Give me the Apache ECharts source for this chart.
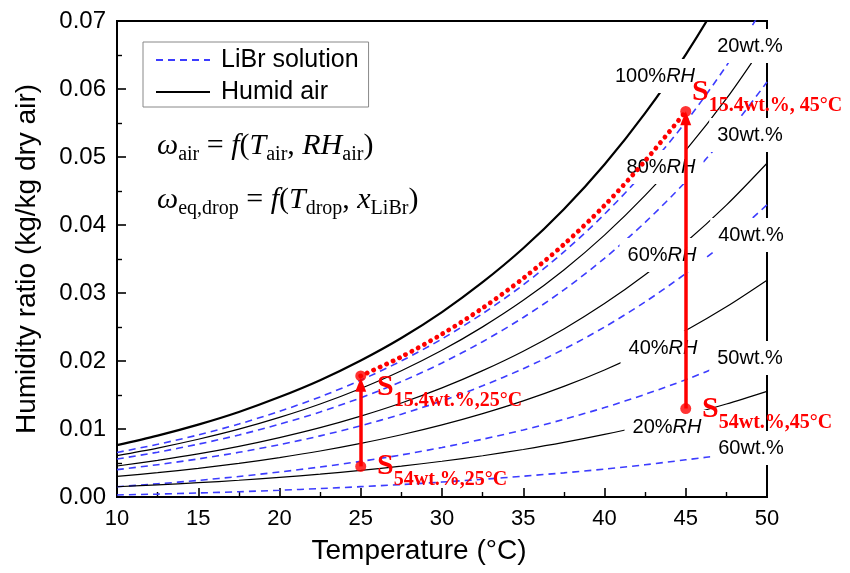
<!DOCTYPE html>
<html>
<head>
<meta charset="utf-8">
<script src="https://cdn.jsdelivr.net/npm/echarts@6/dist/echarts.min.js"></script>
<style>
  html, body { margin: 0; padding: 0; background: #fff; }
  #chart { width: 850px; height: 573px; }
</style>
</head>
<body>
<div id="chart"></div>
<script>
// Temperatures (°C) at which the curves are sampled
const temps = [10, 12.5, 15, 17.5, 20, 22.5, 25, 27.5, 30, 32.5, 35, 37.5, 40, 42.5, 45, 47.5, 50];

// Humid air: humidity ratio (kg/kg dry air) at constant relative humidity
const rh100 = [0.00763, 0.00903, 0.01065, 0.01251, 0.01470, 0.01718, 0.02008, 0.02339, 0.02720, 0.03159, 0.03658, 0.04231, 0.04889, 0.05644, 0.06506, 0.07498, 0.08634];
const rh80  = [0.00609, 0.00720, 0.00849, 0.00997, 0.01170, 0.01367, 0.01596, 0.01857, 0.02157, 0.02502, 0.02892, 0.03339, 0.03851, 0.04435, 0.05098, 0.05857, 0.06720];
const rh60  = [0.00456, 0.00539, 0.00634, 0.00745, 0.00874, 0.01020, 0.01190, 0.01383, 0.01604, 0.01858, 0.02144, 0.02471, 0.02844, 0.03268, 0.03747, 0.04292, 0.04908];
const rh40  = [0.00303, 0.00358, 0.00421, 0.00495, 0.00580, 0.00676, 0.00788, 0.00915, 0.01060, 0.01226, 0.01413, 0.01626, 0.01868, 0.02141, 0.02449, 0.02797, 0.03188];
const rh20  = [0.00151, 0.00179, 0.00210, 0.00246, 0.00289, 0.00336, 0.00392, 0.00454, 0.00526, 0.00607, 0.00699, 0.00802, 0.00920, 0.01052, 0.01201, 0.01368, 0.01554];

// LiBr solution: equilibrium humidity ratio at constant mass fraction
const libr20 = [0.00655, 0.00775, 0.00913, 0.01073, 0.01260, 0.01472, 0.01719, 0.02001, 0.02325, 0.02697, 0.03120, 0.03604, 0.04159, 0.04793, 0.05515, 0.06341, 0.07283];
const libr30 = [0.00558, 0.00659, 0.00777, 0.00912, 0.01071, 0.01250, 0.01459, 0.01697, 0.01971, 0.02284, 0.02640, 0.03046, 0.03510, 0.04039, 0.04639, 0.05324, 0.06102];
const libr40 = [0.00402, 0.00475, 0.00560, 0.00657, 0.00770, 0.00899, 0.01048, 0.01218, 0.01413, 0.01635, 0.01887, 0.02173, 0.02499, 0.02869, 0.03287, 0.03761, 0.04296];
const libr50 = [0.00151, 0.00194, 0.00244, 0.00302, 0.00368, 0.00441, 0.00524, 0.00619, 0.00728, 0.00850, 0.00986, 0.01142, 0.01315, 0.01510, 0.01725, 0.01967, 0.02240];
const libr60 = [0.00030, 0.00043, 0.00059, 0.00077, 0.00099, 0.00124, 0.00152, 0.00183, 0.00220, 0.00260, 0.00306, 0.00355, 0.00411, 0.00474, 0.00547, 0.00622, 0.00713];

// Droplet heated from 25 °C to 45 °C at 15.4 wt.% LiBr
const dropTemps = [25, 27.5, 30, 32.5, 35, 37.5, 40, 42.5, 45];
const libr154   = [0.0178, 0.02061, 0.02396, 0.02779, 0.03216, 0.03715, 0.04288, 0.04943, 0.0567];

// State points and the arrows between them
const stateTemps = [25, 25, 45, 45];
const stateOmega = [0.0045, 0.0178, 0.0130, 0.0567];
const arrowTemps = [25, 45];
const arrowFrom  = [0.0045, 0.0130];
const arrowTo    = [0.0165, 0.0557];

// Axis ticks
const xTicks = { min: 10, max: 50, step: 5 };
const yTicks = { min: 0, max: 0.07, step: 0.01 };

const SANS = '"Liberation Sans", Arial, Helvetica, sans-serif';
const SERIF = '"Liberation Serif", "Times New Roman", Times, serif';
const BLUE = '#3c3cff';
const RED = '#ff0000';

const pairs = (xs, ys) => xs.map((x, i) => [x, ys[i]]);

const airSeries = [rh80, rh60, rh40, rh20, rh100].map((ys) => ({
  type: 'line',
  name: 'Humid air',
  data: pairs(temps, ys),
  smooth: 0.3,
  symbol: 'none',
  silent: true,
  z: 2,
  lineStyle: { color: '#000', width: ys === rh100 ? 2.2 : 1.2 }
}));

const librSeries = [libr20, libr30, libr40, libr50, libr60].map((ys) => ({
  type: 'line',
  name: 'LiBr solution',
  data: pairs(temps, ys),
  smooth: 0.3,
  symbol: 'none',
  silent: true,
  z: 2,
  lineStyle: { color: BLUE, width: 1.6, type: [7, 5] }
}));

const dropSeries = {
  type: 'line',
  name: 'drop',
  data: pairs(dropTemps, libr154),
  smooth: 0.3,
  symbol: 'none',
  silent: true,
  z: 20,
  lineStyle: { color: RED, width: 4.8, type: [0.1, 7], cap: 'round' }
};

const arrowSeries = {
  type: 'scatter',
  name: 'states',
  data: pairs(stateTemps, stateOmega),
  symbol: 'circle',
  symbolSize: 11,
  silent: true,
  z: 22,
  itemStyle: { color: RED },
  markLine: {
    silent: true,
    z: 21,
    symbol: ['none', 'triangle'],
    symbolSize: [11, 14],
    label: { show: false },
    lineStyle: { color: RED, width: 3.5, type: 'solid' },
    data: arrowTemps.map((t, i) => [
      { coord: [t, arrowFrom[i]] },
      { coord: [t, arrowTo[i]] }
    ])
  }
};

// Curve labels on white boxes
function boxLabel(text, cx, cy, italicTail) {
  const rich = {
    n: { fontFamily: SANS, fontSize: 20, fill: '#000' },
    i: { fontFamily: SANS, fontSize: 20, fontStyle: 'italic', fill: '#000' }
  };
  return {
    type: 'text',
    x: cx,
    y: cy,
    z: 10,
    silent: true,
    style: {
      text: italicTail ? '{n|' + text + '}{i|' + italicTail + '}' : '{n|' + text + '}',
      rich: rich,
      align: 'center',
      verticalAlign: 'middle',
      backgroundColor: '#fff',
      padding: [7, 8]
    }
  };
}

// Red state labels: bold S with subscript
function stateLabel(sub, left, top) {
  return {
    type: 'text',
    x: left,
    y: top,
    z: 25,
    silent: true,
    style: {
      text: '{S|S}{b|' + sub + '}',
      align: 'left',
      verticalAlign: 'top',
      rich: {
        S: { fontFamily: SERIF, fontSize: 30, fontWeight: 'bold', fill: RED, lineHeight: 32, verticalAlign: 'top' },
        b: { fontFamily: SERIF, fontSize: 20, fontWeight: 'bold', fill: RED, lineHeight: 20, verticalAlign: 'top', padding: [19, 0, 0, 0] }
      }
    }
  };
}

// Equation text with subscripts
function formula(text, left, top) {
  return {
    type: 'text',
    x: left,
    y: top,
    z: 10,
    silent: true,
    style: {
      text: text,
      align: 'left',
      verticalAlign: 'top',
      rich: {
        i: { fontFamily: SERIF, fontSize: 30, fontStyle: 'italic', fill: '#000', lineHeight: 34, verticalAlign: 'top' },
        o: { fontFamily: SERIF, fontSize: 30, fill: '#000', lineHeight: 34, verticalAlign: 'top' },
        s: { fontFamily: SERIF, fontSize: 20, fill: '#000', lineHeight: 20, verticalAlign: 'top', padding: [14, 0, 0, 0] }
      }
    }
  };
}

const graphics = [
  boxLabel('100%', 655, 76, 'RH'),
  boxLabel('80%', 661, 167, 'RH'),
  boxLabel('60%', 662, 255, 'RH'),
  boxLabel('40%', 663, 348, 'RH'),
  boxLabel('20%', 667, 427, 'RH'),
  boxLabel('20wt.%', 750, 46),
  boxLabel('30wt.%', 750, 135),
  boxLabel('40wt.%', 751, 235),
  boxLabel('50wt.%', 750, 358),
  boxLabel('60wt.%', 751, 448),
  formula('{i|ω}{s|air}{o| = }{i|f}{o|(}{i|T}{s|air}{o|, }{i|RH}{s|air}{o|)}', 157, 131),
  formula('{i|ω}{s|eq,drop}{o| = }{i|f}{o|(}{i|T}{s|drop}{o|, }{i|x}{s|LiBr}{o|)}', 157, 185),
  stateLabel('15.4wt.%, 45°C', 692, 77),
  stateLabel('15.4wt.%,25°C', 377, 372),
  stateLabel('54wt.%,25°C', 377, 451),
  stateLabel('54wt.%,45°C', 702, 394)
];

const axisCommon = {
  axisLine: { show: true, onZero: false, lineStyle: { color: '#000', width: 2 } },
  axisTick: { show: true, inside: true, length: 9, lineStyle: { color: '#000', width: 1.6 } },
  minorTick: { show: true, splitNumber: 2, length: 5, lineStyle: { color: '#000', width: 1.4 } },
  splitLine: { show: false },
  axisLabel: { color: '#000', fontFamily: SANS, fontSize: 22 }
};

const chart = echarts.init(document.getElementById('chart'), null, { renderer: 'canvas' });
chart.setOption({
  animation: false,
  backgroundColor: '#fff',
  grid: { left: 117, right: 83, top: 21, bottom: 76, show: true, borderColor: '#000', borderWidth: 2 },
  legend: {
    left: 143,
    top: 42,
    orient: 'vertical',
    align: 'left',
    data: ['LiBr solution', 'Humid air'],
    itemWidth: 54,
    itemHeight: 2,
    itemGap: 6,
    itemStyle: { opacity: 0 },
    borderColor: '#888',
    borderWidth: 1,
    padding: [5, 10, 2, 12],
    selectedMode: false,
    textStyle: { fontFamily: SANS, fontSize: 25, color: '#000', lineHeight: 26, padding: [0, 0, 0, 6] }
  },
  xAxis: Object.assign({}, axisCommon, {
    type: 'value',
    min: xTicks.min,
    max: xTicks.max,
    interval: xTicks.step,
    name: 'Temperature (°C)',
    nameLocation: 'middle',
    nameGap: 40,
    nameTextStyle: { color: '#000', fontFamily: SANS, fontSize: 28, padding: [0, 46, 0, 0] },
    axisLabel: Object.assign({}, axisCommon.axisLabel, { margin: 11 })
  }),
  yAxis: Object.assign({}, axisCommon, {
    type: 'value',
    min: yTicks.min,
    max: yTicks.max,
    interval: yTicks.step,
    name: 'Humidity ratio (kg/kg dry air)',
    nameLocation: 'middle',
    nameGap: 76,
    nameTextStyle: { color: '#000', fontFamily: SANS, fontSize: 28 },
    axisLabel: Object.assign({}, axisCommon.axisLabel, { fontSize: 24, margin: 11, formatter: (v) => v.toFixed(2) })
  }),
  graphic: graphics,
  series: [].concat(librSeries, airSeries, [dropSeries, arrowSeries])
});
</script>
</body>
</html>
